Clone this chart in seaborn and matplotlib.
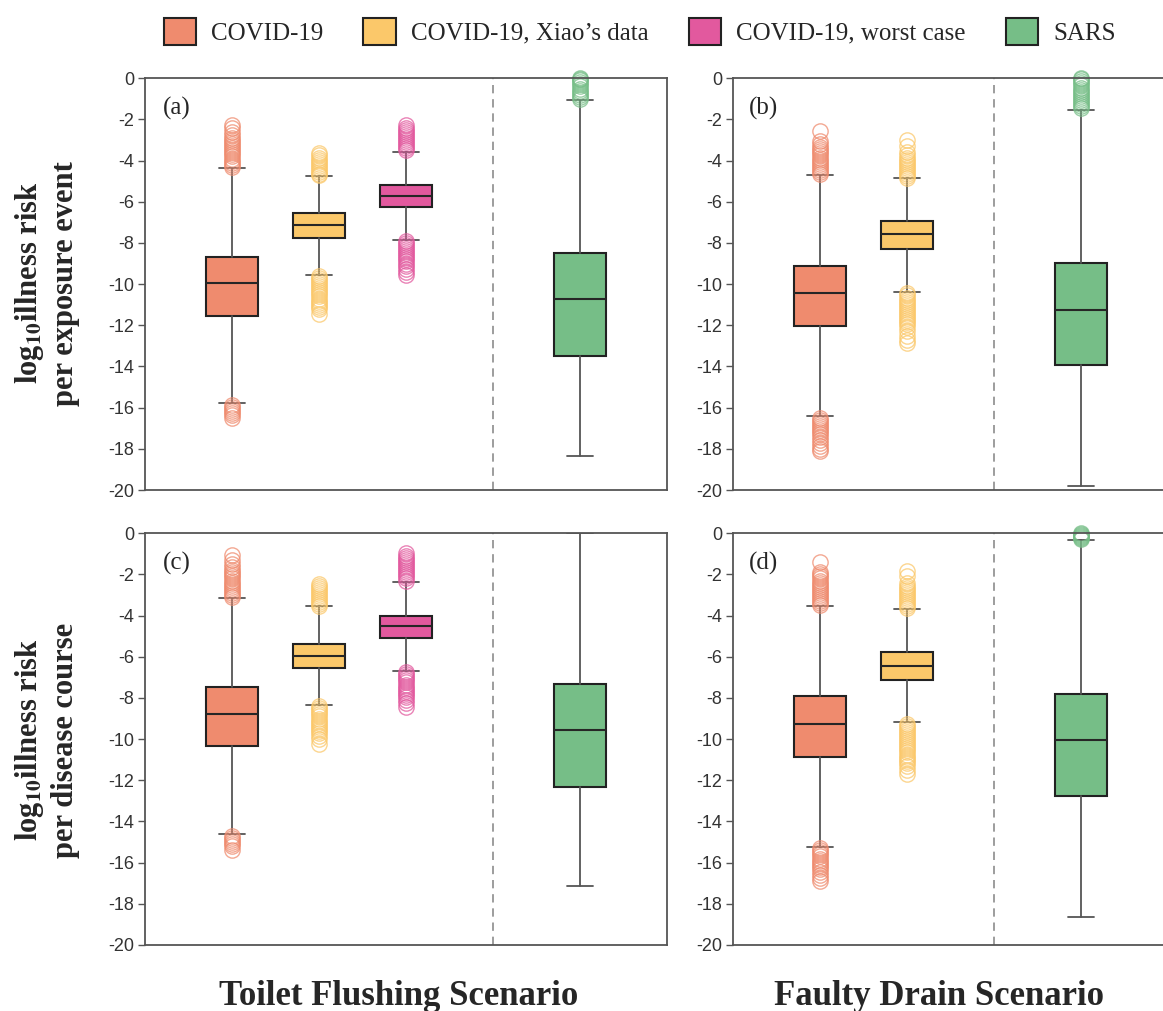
import matplotlib
matplotlib.use("Agg")
import matplotlib.pyplot as plt
import matplotlib.patches as mpatches
import seaborn as sns

# series names and colours
series = ["COVID-19", "COVID-19, Xiao\u2019s data", "COVID-19, worst case", "SARS"]
colors = ["#EF8B6E", "#FBC86A", "#E2599E", "#76BE87"]

# box statistics: [whislo, q1, med, q3, whishi] per series, per panel
# panel (a) toilet flushing, per exposure event
a_covid = [-15.79, -11.53, -9.96, -8.66, -4.37]
a_xiao = [-9.55, -7.74, -7.13, -6.56, -4.74]
a_worst = [-7.87, -6.23, -5.72, -5.17, -3.56]
a_sars = [-18.35, -13.49, -10.74, -8.50, -1.05]
# panel (b) faulty drain, per exposure event
b_covid = [-16.40, -12.02, -10.45, -9.12, -4.70]
b_xiao = [-10.38, -8.31, -7.58, -6.95, -4.86]
b_sars = [-19.80, -13.93, -11.24, -8.96, -1.54]
# panel (c) toilet flushing, per disease course
c_covid = [-14.61, -10.33, -8.76, -7.48, -3.17]
c_xiao = [-8.36, -6.57, -5.96, -5.36, -3.56]
c_worst = [-6.69, -5.07, -4.52, -4.00, -2.36]
c_sars = [-17.15, -12.33, -9.56, -7.32, 0.0]
# panel (d) faulty drain, per disease course
d_covid = [-15.22, -10.85, -9.25, -7.90, -3.53]
d_xiao = [-9.18, -7.13, -6.43, -5.77, -3.68]
d_sars = [-18.64, -12.76, -10.06, -7.79, -0.34]

# outliers
a_covid_out = [-2.27, -2.42, -2.6, -2.78, -2.9, -3.0, -3.1, -3.2, -3.3, -3.4, -3.5, -3.6, -3.7, -3.8,
               -3.9, -4.0, -4.1, -4.2, -4.3, -15.85, -15.95, -16.05, -16.15, -16.25, -16.35, -16.5]
a_xiao_out = [-3.65, -3.75, -3.85, -3.95, -4.05, -4.15, -4.25, -4.35, -4.45, -4.55, -4.65, -4.72,
              -9.6, -9.7, -9.8, -9.9, -10.0, -10.1, -10.2, -10.3, -10.4, -10.5, -10.6, -10.7, -10.8,
              -10.9, -11.0, -11.1, -11.2, -11.45]
a_worst_out = [-2.27, -2.4, -2.5, -2.6, -2.7, -2.8, -2.9, -3.0, -3.1, -3.2, -3.3, -3.4, -3.5,
               -7.9, -8.0, -8.1, -8.2, -8.3, -8.4, -8.5, -8.6, -8.7, -8.8, -8.9, -9.0, -9.1, -9.25,
               -9.4, -9.55]
a_sars_out = [0.0, -0.05, -0.1, -0.2, -0.3, -0.4, -0.5, -0.6, -0.7, -0.8, -0.9, -1.0]

b_covid_out = [-2.56, -3.05, -3.2, -3.35, -3.45, -3.55, -3.65, -3.75, -3.85, -3.95, -4.05, -4.15,
               -4.25, -4.35, -4.45, -4.55, -4.65, -16.5, -16.6, -16.7, -16.8, -16.9, -17.0, -17.1,
               -17.2, -17.3, -17.4, -17.55, -17.7, -17.85, -18.0, -18.1]
b_xiao_out = [-3.0, -3.3, -3.6, -3.75, -3.85, -3.95, -4.05, -4.15, -4.25, -4.35, -4.45, -4.55,
              -4.65, -4.75, -4.85, -10.45, -10.55, -10.65, -10.75, -10.85, -10.95, -11.05, -11.15,
              -11.25, -11.35, -11.45, -11.55, -11.65, -11.75, -11.85, -11.95, -12.1, -12.3, -12.5,
              -12.7, -12.87]
b_sars_out = [0.0, -0.05, -0.15, -0.25, -0.35, -0.45, -0.55, -0.65, -0.75, -0.85, -0.95, -1.05,
              -1.15, -1.25, -1.35, -1.45]

c_covid_out = [-1.05, -1.3, -1.5, -1.65, -1.8, -1.9, -2.0, -2.1, -2.2, -2.3, -2.4, -2.5, -2.6,
               -2.7, -2.8, -2.9, -3.0, -3.1, -14.7, -14.8, -14.9, -15.0, -15.1, -15.2, -15.38]
c_xiao_out = [-2.46, -2.55, -2.65, -2.75, -2.85, -2.95, -3.05, -3.15, -3.25, -3.35, -3.45, -3.55,
              -8.4, -8.5, -8.6, -8.7, -8.8, -8.9, -9.0, -9.1, -9.2, -9.3, -9.4, -9.5, -9.6, -9.7,
              -9.85, -10.0, -10.23]
c_worst_out = [-0.97, -1.1, -1.2, -1.3, -1.4, -1.5, -1.6, -1.7, -1.8, -1.9, -2.0, -2.1, -2.2, -2.3,
               -6.75, -6.85, -6.95, -7.05, -7.15, -7.25, -7.35, -7.45, -7.55, -7.65, -7.75, -7.85,
               -7.95, -8.1, -8.25, -8.42]
c_sars_out = []

d_covid_out = [-1.41, -1.9, -2.0, -2.1, -2.2, -2.3, -2.4, -2.5, -2.6, -2.7, -2.8, -2.9, -3.0, -3.1,
               -3.2, -3.3, -3.4, -3.5, -15.3, -15.4, -15.5, -15.6, -15.7, -15.8, -15.9, -16.0,
               -16.1, -16.2, -16.3, -16.45, -16.6, -16.75, -16.9]
d_xiao_out = [-1.83, -2.1, -2.4, -2.55, -2.65, -2.75, -2.85, -2.95, -3.05, -3.15, -3.25, -3.35,
              -3.45, -3.55, -3.65, -9.25, -9.35, -9.45, -9.55, -9.65, -9.75, -9.85, -9.95, -10.05,
              -10.15, -10.25, -10.35, -10.45, -10.55, -10.65, -10.75, -10.85, -10.95, -11.05,
              -11.15, -11.3, -11.5, -11.7]
d_sars_out = [0.0, -0.05, -0.1, -0.15, -0.2, -0.25, -0.3]

yticks = [0, -2, -4, -6, -8, -10, -12, -14, -16, -18, -20]
ylabels = ["log$_{\\mathbf{10}}$illness risk\nper exposure event",
           "log$_{\\mathbf{10}}$illness risk\nper disease course"]
xlabels = ["Toilet Flushing Scenario", "Faulty Drain Scenario"]
panel_tags = ["(a)", "(b)", "(c)", "(d)"]

sns.set_theme(style="white")
plt.rcParams["font.family"] = ["Liberation Serif", "DejaVu Serif"]
plt.rcParams["mathtext.fontset"] = "stix"
palette = sns.color_palette(colors)

fig = plt.figure(figsize=(11.63, 10.11), dpi=100)

# axes rectangles in figure fraction
ax_a = fig.add_axes([0.1247, 0.5153, 0.4488, 0.4073])
ax_b = fig.add_axes([0.6305, 0.5153, 0.3741, 0.4073])
ax_c = fig.add_axes([0.1247, 0.0653, 0.4488, 0.4073])
ax_d = fig.add_axes([0.6305, 0.0653, 0.3741, 0.4073])


def make_stats(vals, fl):
    return dict(whislo=vals[0], q1=vals[1], med=vals[2], q3=vals[3], whishi=vals[4], fliers=fl)


def draw_panel(ax, stats, outs, cidx, positions, divider, xmax, tag):
    bstats = [make_stats(s, o) for s, o in zip(stats, outs)]
    for st, pos, ci in zip(bstats, positions, cidx):
        col = palette[ci]
        art = ax.bxp([st], positions=[pos], widths=0.6, patch_artist=True,
                     boxprops=dict(facecolor=col, edgecolor="#222222", linewidth=1.5),
                     medianprops=dict(color="#262626", linewidth=1.5),
                     whiskerprops=dict(color="#555555", linewidth=1.3),
                     capprops=dict(color="#555555", linewidth=1.3),
                     flierprops=dict(marker="o", markerfacecolor="none", markeredgecolor=col,
                                     markersize=11, markeredgewidth=1.0, alpha=0.75))
        for f in art["fliers"]:
            f.set_clip_on(False)
    ax.axvline(divider, color="#8c8c8c", linestyle=(0, (5, 3.5)), linewidth=1.2)
    ax.set_xlim(0, xmax)
    ax.set_ylim(-20, 0)
    ax.set_xticks([])
    ax.set_yticks(yticks)
    ax.set_yticklabels([str(t) for t in yticks], family=["Liberation Sans Narrow", "Liberation Sans"],
                       fontsize=13, color="#333333")
    ax.tick_params(axis="y", direction="out", length=5, width=1, color="#555555", pad=3, left=True)
    for sp in ax.spines.values():
        sp.set_color("#555555")
        sp.set_linewidth(1.3)
    ax.text(0.035, 0.955, tag, transform=ax.transAxes, fontsize=18, va="top", ha="left",
            family=["Liberation Serif"])


draw_panel(ax_a, [a_covid, a_xiao, a_worst, a_sars], [a_covid_out, a_xiao_out, a_worst_out, a_sars_out],
           [0, 1, 2, 3], [1, 2, 3, 5], 4, 6, panel_tags[0])
draw_panel(ax_b, [b_covid, b_xiao, b_sars], [b_covid_out, b_xiao_out, b_sars_out],
           [0, 1, 3], [1, 2, 4], 3, 5, panel_tags[1])
draw_panel(ax_c, [c_covid, c_xiao, c_worst, c_sars], [c_covid_out, c_xiao_out, c_worst_out, c_sars_out],
           [0, 1, 2, 3], [1, 2, 3, 5], 4, 6, panel_tags[2])
draw_panel(ax_d, [d_covid, d_xiao, d_sars], [d_covid_out, d_xiao_out, d_sars_out],
           [0, 1, 3], [1, 2, 4], 3, 5, panel_tags[3])

# row labels
fig.text(0.040, 0.72, ylabels[0], rotation=90, ha="center", va="center", fontsize=22,
         fontweight="bold", linespacing=1.25)
fig.text(0.040, 0.268, ylabels[1], rotation=90, ha="center", va="center", fontsize=22,
         fontweight="bold", linespacing=1.25)

# column labels
fig.text(0.343, 0.006, xlabels[0], ha="center", va="baseline", fontsize=25, fontweight="bold")
fig.text(0.807, 0.006, xlabels[1], ha="center", va="baseline", fontsize=25, fontweight="bold")

# legend
handles = [mpatches.Patch(facecolor=c, edgecolor="#222222", linewidth=1.5) for c in colors]
fig.legend(handles, series, loc="center", bbox_to_anchor=(0.55, 0.969), ncol=4, frameon=False,
           fontsize=18, handlelength=1.3, handleheight=1.3, handletextpad=0.6, columnspacing=1.6)

fig.savefig("out.png", dpi=100)
